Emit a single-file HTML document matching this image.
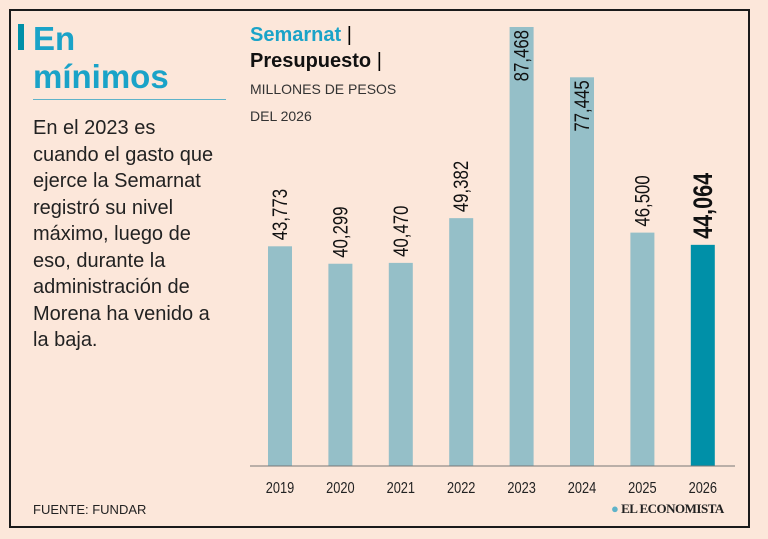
<!DOCTYPE html>
<html><head><meta charset="utf-8"><style>
body{margin:0;width:768px;height:539px;background:#fce7da;overflow:hidden;font-family:"Liberation Sans",sans-serif;}
#frame{position:absolute;left:9px;top:9px;width:741px;height:519px;border:2px solid #1a1a1a;box-sizing:border-box;}
.abs{position:absolute;}
</style></head><body>
<div id="frame"></div>
<div class="abs" style="left:18px;top:24px;width:6px;height:26px;background:#0090a8"></div>
<div class="abs" style="left:33px;top:20px;font-size:33px;font-weight:bold;color:#1aa3c8;line-height:38px">En<br>mínimos</div>
<div class="abs" style="left:33px;top:99px;width:193px;height:1px;background:#5fb3c9"></div>
<div class="abs" style="left:33px;top:115px;font-size:20px;color:#222;line-height:26.5px;white-space:nowrap">En el 2023 es<br>cuando el gasto que<br>ejerce la Semarnat<br>registró su nivel<br>máximo, luego de<br>eso, durante la<br>administración de<br>Morena ha venido a<br>la baja.</div>
<div class="abs" style="left:250px;top:22px;font-size:20px;font-weight:bold;line-height:26px"><span style="color:#1aa3c8">Semarnat</span> <span style="font-weight:normal">|</span><br><span style="color:#111">Presupuesto</span> <span style="font-weight:normal">|</span></div>
<div class="abs" style="left:250px;top:76px;font-size:14px;color:#333;line-height:27px">MILLONES DE PESOS<br>DEL 2026</div>
<div class="abs" style="left:33px;top:502px;font-size:13px;color:#222">FUENTE: FUNDAR</div>
<div class="abs" style="left:611px;top:501px;font-size:13px;font-family:'Liberation Serif',serif;font-weight:bold;color:#222;letter-spacing:-0.5px"><span style="color:#5fb3c9">●</span> EL ECONOMISTA</div>
<svg class="abs" style="left:0;top:0" width="768" height="539">
<g id="bars"></g>
<line x1="250" y1="466" x2="735" y2="466" stroke="#777" stroke-width="1"/>
</svg>
<script>
const categories=["2019","2020","2021","2022","2023","2024","2025","2026"];
const values=[43773,40299,40470,49382,87468,77445,46500,44064];
const valueLabels=["43,773","40,299","40,470","49,382","87,468","77,445","46,500","44,064"];
const g=document.getElementById('bars');
const ns='http://www.w3.org/2000/svg';
const base=466, scale=439/87468;
function x(i){return 280+i*60.4;}
function y(v){return base-v*scale;}
categories.forEach((c,i)=>{
  const last=i===categories.length-1;
  const inside=values[i]>70000;
  const r=document.createElementNS(ns,'rect');
  
  
  r.setAttribute('x',x(i)-12);r.setAttribute('y',y(values[i]));
  r.setAttribute('width',24);r.setAttribute('height',base-y(values[i]));
  r.setAttribute('fill',last?'#0090a8':'#95bfc8');
  g.appendChild(r);
  const t=document.createElementNS(ns,'text');
  
  
  const ty=inside?y(values[i])+3:y(values[i])-6;
  t.setAttribute('transform','translate('+(x(i)+(last?9:7))+','+ty+') rotate(-90) scale(0.8,1)');
  if(inside)t.setAttribute('text-anchor','end');
  t.setAttribute('font-size',last?'27':'21');
  if(last)t.setAttribute('font-weight','bold');
  t.setAttribute('fill','#111');
  t.setAttribute('font-family','Liberation Sans, sans-serif');
  t.textContent=valueLabels[i];
  g.appendChild(t);
  const yl=document.createElementNS(ns,'text');
  
  
  yl.setAttribute('transform','translate('+x(i)+',493) scale(0.8,1)');
  yl.setAttribute('text-anchor','middle');yl.setAttribute('font-size','16');
  yl.setAttribute('fill','#222');
  yl.setAttribute('font-family','Liberation Sans, sans-serif');
  yl.textContent=c;
  g.appendChild(yl);
});
</script>
</body></html>
